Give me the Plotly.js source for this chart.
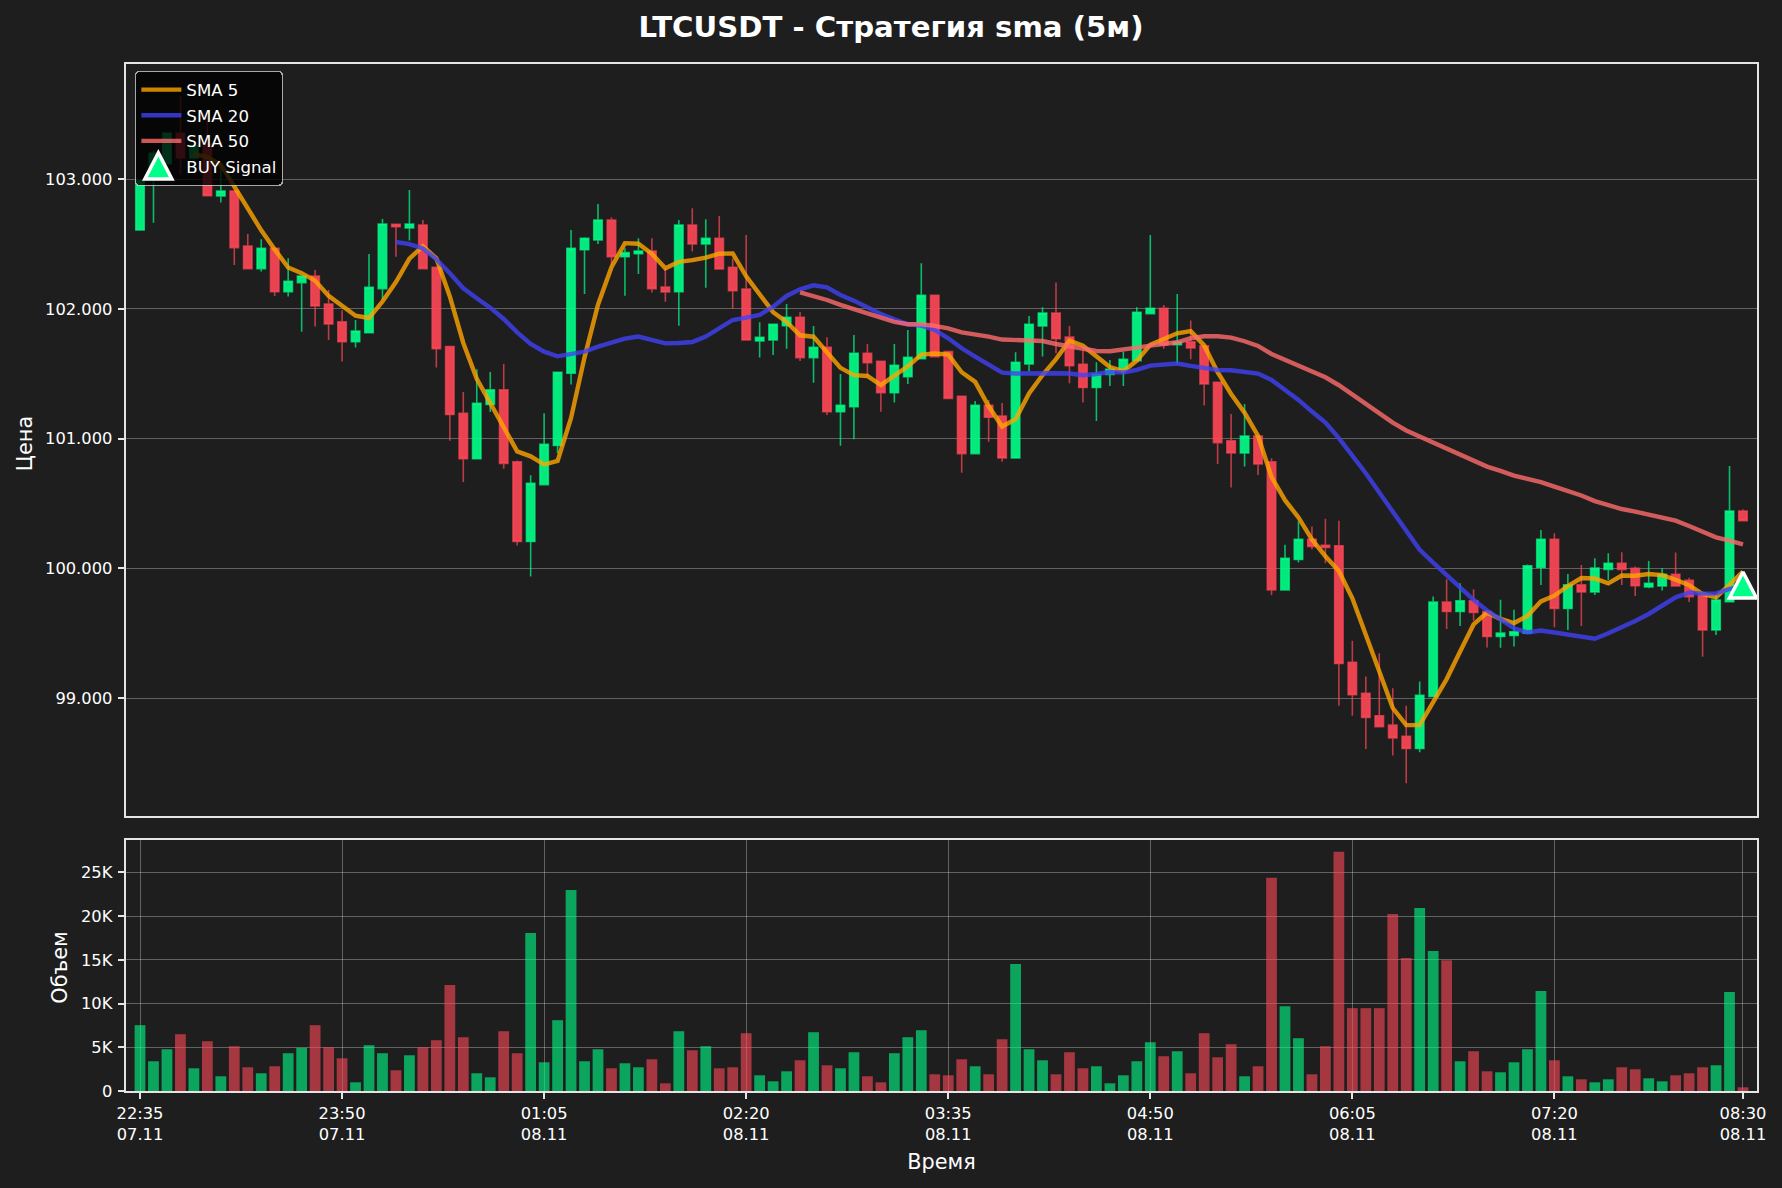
<!DOCTYPE html>
<html>
<head>
<meta charset="utf-8">
<script src="https://cdn.plot.ly/plotly-3.0.1.min.js"></script>
<style>
html, body { margin: 0; padding: 0; background: #1e1e1e; }
</style>
</head>
<body>
<div id="chart" style="width:1782px;height:1188px"></div>
<script>
var openPrices = [102.609,103.000,103.120,103.356,103.163,103.272,102.871,102.909,102.485,102.311,
    102.467,102.133,102.203,102.254,102.038,101.900,101.748,101.817,102.157,102.652,
    102.624,102.647,102.321,101.710,101.196,100.846,101.263,101.376,100.821,100.207,
    100.646,100.947,101.504,102.457,102.532,102.686,102.403,102.426,102.447,102.169,
    102.133,102.647,102.501,102.544,102.321,102.154,101.753,101.761,101.871,101.936,
    101.625,101.704,101.208,101.247,101.658,101.596,101.355,101.478,101.617,102.105,
    101.671,101.327,100.885,101.258,101.175,100.852,101.576,101.869,101.969,101.784,
    101.574,101.394,101.496,101.535,101.602,101.964,102.005,101.725,101.746,101.715,
    101.435,100.983,100.890,101.021,100.821,99.835,100.069,100.225,100.179,100.174,
    99.277,99.038,98.864,98.792,98.707,98.612,99.013,99.740,99.668,99.750,
    99.668,99.475,99.483,99.501,100.007,100.225,99.691,99.873,99.819,99.993,
    100.039,100.001,99.857,99.865,99.955,99.908,99.795,99.526,99.744,100.443]
var highPrices = [102.990,103.220,103.356,103.644,103.260,103.490,103.117,102.909,102.578,102.537,
    102.467,102.390,102.254,102.300,102.146,101.990,101.915,102.424,102.694,102.652,
    102.917,102.686,102.321,101.715,101.360,101.535,101.514,101.576,100.831,100.718,
    101.196,101.512,102.609,102.552,102.809,102.706,102.467,102.544,102.544,102.313,
    102.686,102.776,102.691,102.717,102.390,102.570,101.897,101.882,102.038,101.977,
    101.869,101.781,101.499,101.799,101.730,101.596,101.730,101.838,102.352,102.105,
    101.671,101.327,101.291,101.298,101.276,101.666,101.946,102.013,102.203,101.869,
    101.684,101.589,101.607,101.671,102.013,102.570,102.031,102.116,101.910,101.715,
    101.435,101.191,101.268,101.021,100.850,100.182,100.361,100.323,100.382,100.367,
    99.442,99.167,99.347,99.077,98.941,99.128,99.783,99.917,99.886,99.840,
    99.668,99.758,99.681,100.030,100.297,100.272,99.958,100.027,100.079,100.117,
    100.124,100.014,100.057,100.001,100.122,99.929,99.795,99.795,100.790,100.456]
var lowPrices = [102.609,102.665,103.120,103.040,103.163,102.871,102.820,102.339,102.311,102.288,
    102.100,102.095,101.825,101.864,101.761,101.594,101.702,101.817,102.070,102.403,
    102.527,102.311,101.548,100.985,100.667,100.846,101.206,100.769,100.176,99.937,
    100.646,100.888,101.417,102.115,102.501,102.339,102.102,102.270,102.126,102.056,
    101.871,102.442,102.164,102.308,102.000,101.761,101.625,101.645,101.694,101.599,
    101.432,101.183,100.946,100.995,101.478,101.208,101.278,101.422,101.617,101.632,
    101.311,100.738,100.885,100.977,100.823,100.852,101.517,101.633,101.658,101.427,
    101.278,101.137,101.407,101.407,101.602,101.959,101.694,101.576,101.612,101.255,
    100.805,100.623,100.785,100.721,99.796,99.830,100.045,100.148,100.040,98.941,
    98.864,98.609,98.781,98.558,98.345,98.584,99.013,99.534,99.557,99.596,
    99.390,99.388,99.398,99.501,99.873,99.547,99.526,99.557,99.796,99.911,
    99.872,99.788,99.847,99.829,99.865,99.741,99.320,99.487,99.744,100.368]
var closePrices = [102.990,103.200,103.356,103.163,103.260,102.873,102.909,102.473,102.311,102.467,
    102.133,102.213,102.254,102.023,101.884,101.748,101.830,102.167,102.655,102.634,
    102.655,102.311,101.694,101.186,100.846,101.273,101.376,100.810,100.207,100.656,
    100.957,101.512,102.467,102.544,102.686,102.403,102.434,102.447,102.156,102.131,
    102.647,102.501,102.544,102.308,102.141,101.761,101.781,101.882,101.936,101.625,
    101.704,101.208,101.257,101.658,101.586,101.355,101.566,101.627,102.105,101.632,
    101.311,100.885,101.257,101.165,100.852,101.589,101.882,101.969,101.771,101.563,
    101.394,101.496,101.535,101.612,101.974,102.005,101.723,101.746,101.699,101.422,
    100.970,100.890,101.021,100.805,99.835,100.079,100.225,100.169,100.161,99.267,
    99.026,98.851,98.781,98.694,98.612,99.023,99.740,99.668,99.750,99.660,
    99.475,99.501,99.511,100.020,100.225,99.691,99.873,99.819,100.002,100.039,
    99.993,99.867,99.885,99.955,99.865,99.783,99.526,99.757,100.443,100.368]
var volumes = [7525,3400,4775,6494,2598,5692,1681,5119,2712,2025,
    2827,4317,4928,7525,5004,3744,993,5233,4317,2368,
    4087,5004,5806,12109,6150,2025,1566,6838,4317,18069,
    3285,8098,22996,3400,4775,2598,3171,2712,3629,879,
    6838,4660,5119,2598,2712,6609,1795,1108,2254,3514,
    6723,2941,2598,4431,1681,993,4317,6150,6952,1910,
    1795,3629,2827,1910,5921,14516,4775,3514,1910,4431,
    2598,2827,879,1795,3400,5577,3973,4546,2025,6609,
    3858,5348,1681,2827,24372,9703,6036,1910,5119,27351,
    9474,9474,9474,20246,15204,20934,16006,14936,3400,4546,
    2254,2139,3285,4775,11422,3514,1681,1337,993,1337,
    2712,2483,1452,1108,1795,2025,2712,2941,11307,420]
// SMA arrays start where the line starts in the picture
var sma5 = [null,null,null,null,103.194,103.170,103.112,102.947,102.776,102.606,
    102.459,102.319,102.276,102.218,102.101,102.024,101.948,101.930,102.057,102.207,
    102.388,102.484,102.390,102.096,101.738,101.462,101.275,101.098,100.902,100.864,
    100.801,100.828,101.160,101.627,102.033,102.322,102.507,102.503,102.425,102.314,
    102.363,102.376,102.396,102.426,102.428,102.251,102.107,101.975,101.900,101.797,
    101.786,101.671,101.546,101.490,101.483,101.413,101.484,101.558,101.648,101.657,
    101.648,101.512,101.438,101.250,101.094,101.150,101.349,101.491,101.613,101.755,
    101.716,101.639,101.552,101.520,101.602,101.724,101.770,101.812,101.829,101.719,
    101.512,101.345,101.200,101.022,100.704,100.526,100.393,100.223,100.094,99.980,
    99.770,99.495,99.217,98.924,98.793,98.792,98.970,99.147,99.359,99.568,
    99.659,99.611,99.579,99.633,99.746,99.790,99.864,99.926,99.922,99.885,
    99.945,99.944,99.957,99.948,99.913,99.871,99.803,99.777,99.875,99.975]
var sma20Start = 19
var sma20 = [102.516,102.500,102.467,102.383,102.275,102.159,102.082,102.010,101.923,101.820,
    101.730,101.671,101.635,101.651,101.671,101.709,101.740,101.771,101.787,101.761,
    101.735,101.738,101.745,101.787,101.851,101.915,101.933,101.954,102.018,102.100,
    102.151,102.182,102.167,102.108,102.064,102.010,101.961,101.920,101.882,101.871,
    101.838,101.774,101.697,101.632,101.573,101.509,101.502,101.504,101.507,101.504,
    101.502,101.489,101.499,101.514,101.509,101.530,101.563,101.574,101.579,101.561,
    101.545,101.530,101.527,101.517,101.502,101.453,101.376,101.299,101.209,101.124,
    101.004,100.875,100.734,100.585,100.438,100.284,100.143,100.045,99.950,99.848,
    99.758,99.675,99.604,99.539,99.506,99.521,99.506,99.491,99.470,99.458,
    99.500,99.546,99.595,99.649,99.713,99.777,99.813,99.806,99.808,99.842,99.860]
var sma50Start = 49
var sma50 = [102.128,102.102,102.069,102.031,101.997,101.961,101.928,101.900,101.882,101.882,
    101.869,101.851,101.820,101.805,101.787,101.764,101.761,101.761,101.753,101.730,
    101.710,101.697,101.676,101.674,101.684,101.702,101.717,101.728,101.743,101.774,
    101.789,101.789,101.779,101.751,101.715,101.653,101.607,101.561,101.517,101.473,
    101.412,101.340,101.265,101.190,101.124,101.063,101.017,100.973,100.921,100.875,
    100.832,100.785,100.752,100.716,100.690,100.665,100.631,100.598,100.562,100.519,
    100.489,100.458,100.438,100.412,100.386,100.368,100.327,100.283,100.240,100.214,100.186]
var buyIndex = [119]
var buyPrice = [99.868]
var timeTickIndex = [0, 15, 30, 45, 60, 75, 90, 105, 119]
var timeTickText = ["22:35<br>07.11", "23:50<br>07.11", "01:05<br>08.11", "02:20<br>08.11", "03:35<br>08.11",
    "04:50<br>08.11", "06:05<br>08.11", "07:20<br>08.11", "08:30<br>08.11"]
var priceTicks = [99, 100, 101, 102, 103]
var volumeTicks = [0, 5000, 10000, 15000, 20000, 25000]
var volumeTickText = ["0", "5K", "10K", "15K", "20K", "25K"]

var candleIndex = closePrices.map(function (c, i) { return i })
var volumeColors = closePrices.map(function (c, i) {
    return c >= openPrices[i] ? "rgba(0,255,136,0.6)" : "rgba(255,71,87,0.6)"
})

var frameColor = "#e4e4e4"
var gridColor = "rgba(255,255,255,0.3)"
var tickFont = { family: "DejaVu Sans", size: 16.3, color: "#ffffff" }
var titleFont = { family: "DejaVu Sans", size: 20.8, color: "#ffffff" }

function smaTrace(name, values, start, color) {
    return {
        type: "scatter",
        mode: "lines",
        name: name,
        legendgroup: name,
        x: values.map(function (v, i) { return i + start }),
        y: values,
        xaxis: "x",
        yaxis: "y",
        line: { color: color, width: 4.4 },
        hoverinfo: "skip",
    }
}

var traces = [
    {
        type: "candlestick",
        x: candleIndex,
        open: openPrices,
        high: highPrices,
        low: lowPrices,
        close: closePrices,
        xaxis: "x",
        yaxis: "y",
        showlegend: false,
        whiskerwidth: 0,
        increasing: { line: { color: "rgba(0,255,136,0.7)", width: 1.6 }, fillcolor: "rgba(0,255,136,0.9)" },
        decreasing: { line: { color: "rgba(255,71,87,0.7)", width: 1.6 }, fillcolor: "rgba(255,71,87,0.9)" },
    },
    smaTrace("SMA 5", sma5, 0, "rgba(255,165,0,0.8)"),
    smaTrace("SMA 20", sma20, sma20Start, "rgba(65,65,245,0.8)"),
    smaTrace("SMA 50", sma50, sma50Start, "rgba(255,107,107,0.8)"),
    {
        type: "scatter",
        mode: "markers",
        name: "BUY Signal",
        legendgroup: "BUY Signal",
        x: buyIndex,
        y: buyPrice,
        xaxis: "x",
        yaxis: "y",
        marker: { symbol: "triangle-up", size: 24, color: "#00ff88", line: { color: "#ffffff", width: 3.5 } },
    },
    {
        type: "bar",
        x: candleIndex,
        y: volumes,
        xaxis: "x2",
        yaxis: "y2",
        width: 0.8,
        showlegend: false,
        marker: { color: volumeColors, line: { width: 0 } },
    },
]

var layout = {
    width: 1782,
    height: 1188,
    margin: { l: 126, r: 25, t: 64, b: 97, pad: 0 },
    paper_bgcolor: "#1e1e1e",
    plot_bgcolor: "#1e1e1e",
    font: { family: "DejaVu Sans", color: "#ffffff" },
    boxgap: 0.37,
    boxgroupgap: 0,
    title: {
        text: "<b>LTCUSDT - Стратегия sma (5м)</b>",
        x: 0.5,
        xanchor: "center",
        y: 0.9772,
        yanchor: "middle",
        font: { family: "DejaVu Sans", size: 29.2, color: "#ffffff" },
    },
    showlegend: true,
    legend: {
        x: 0.0055,
        y: 0.9932,
        xanchor: "left",
        yanchor: "top",
        bgcolor: "rgba(0,0,0,0.8)",
        bordercolor: "rgba(204,204,204,0.8)",
        borderwidth: 1.4,
        itemwidth: 40,
        traceorder: "grouped",
        tracegroupgap: 1,
        font: { family: "DejaVu Sans", size: 16.6, color: "#ffffff" },
    },
    xaxis: {
        domain: [0, 1],
        anchor: "y",
        range: [-1.04, 120.04],
        rangeslider: { visible: false },
        showgrid: false,
        zeroline: false,
        showticklabels: false,
        ticks: "",
        showline: true,
        mirror: true,
        linecolor: frameColor,
        linewidth: 1.7,
    },
    yaxis: {
        domain: [0.2678, 1],
        anchor: "x",
        range: [98.092, 103.888],
        tickmode: "array",
        tickvals: priceTicks,
        tickformat: ".3f",
        tickfont: tickFont,
        ticks: "outside",
        ticklen: 6.5,
        tickwidth: 1.5,
        tickcolor: frameColor,
        ticklabelstandoff: 2,
        showgrid: true,
        gridcolor: gridColor,
        gridwidth: 1,
        zeroline: false,
        showline: true,
        mirror: true,
        linecolor: frameColor,
        linewidth: 1.7,
        title: { text: "Цена", font: titleFont, standoff: 7 },
    },
    xaxis2: {
        domain: [0, 1],
        anchor: "y2",
        range: [-1.04, 120.04],
        tickmode: "array",
        tickvals: timeTickIndex,
        ticktext: timeTickText,
        tickangle: 0,
        tickfont: tickFont,
        ticks: "outside",
        ticklen: 6.5,
        tickwidth: 1.5,
        tickcolor: frameColor,
        showgrid: true,
        gridcolor: gridColor,
        gridwidth: 1,
        zeroline: false,
        showline: true,
        mirror: true,
        linecolor: frameColor,
        linewidth: 1.7,
        title: { text: "Время", font: titleFont, standoff: 11 },
    },
    yaxis2: {
        domain: [0, 0.2444],
        anchor: "x2",
        range: [0, 28700],
        tickmode: "array",
        tickvals: volumeTicks,
        ticktext: volumeTickText,
        tickfont: tickFont,
        ticks: "outside",
        ticklen: 6.5,
        tickwidth: 1.5,
        tickcolor: frameColor,
        ticklabelstandoff: 2,
        showgrid: true,
        gridcolor: gridColor,
        gridwidth: 1,
        zeroline: false,
        showline: true,
        mirror: true,
        linecolor: frameColor,
        linewidth: 1.7,
        title: { text: "Объем", font: titleFont, standoff: 8 },
    },
}

// matplotlib's ^ marker is as tall as it is wide, plotly's triangle-up is flatter
var buyMarkerPath = "M-13.5,12.5H13.5L0,-13.5Z"

function nudgeDown(el, dy) {
    el.setAttribute("transform", "translate(0," + dy + ") " + (el.getAttribute("transform") || ""))
}

Plotly.newPlot(document.getElementById("chart"), traces, layout, { displayModeBar: false }).then(function (gd) {
    gd.querySelectorAll(".scatterlayer .trace .point").forEach(function (p) {
        p.setAttribute("d", buyMarkerPath)
    })
    gd.querySelectorAll(".legend .legendpoints .scatterpts").forEach(function (p) {
        p.setAttribute("d", buyMarkerPath)
    })
    gd.querySelectorAll(".legend .legendsymbols").forEach(function (s) {
        s.setAttribute("transform", "translate(-3,0)")
    })
    var legendBox = gd.querySelector(".legend .bg")
    legendBox.setAttribute("rx", 3)
    legendBox.setAttribute("ry", 3)
    var scrollbox = gd.querySelector(".legend .scrollbox")
    if (scrollbox) scrollbox.removeAttribute("clip-path")
    nudgeDown(gd.querySelector(".ytitle"), 3.5)
    nudgeDown(gd.querySelector(".y2title"), 2)
})
</script>
</body>
</html>
